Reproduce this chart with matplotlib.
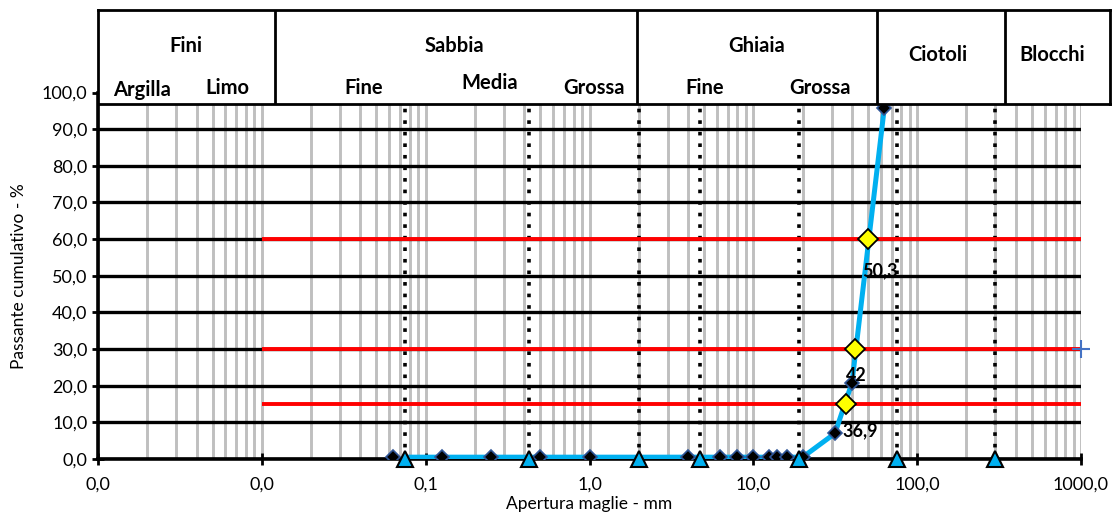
"""
Curva granulometrica -- passante cumulativo vs apertura maglie (scala log).
"""

import matplotlib

matplotlib.use("Agg")
import matplotlib.pyplot as plt
from matplotlib.ticker import FixedLocator, FuncFormatter, LogLocator, NullFormatter

plt.rcParams["font.family"] = ["Lato", "DejaVu Sans"]

# -- Data ---------------------------------------------------------------------
# setacci (vertical dotted lines + triangles on the axis)
sieve_mm = [0.075, 0.425, 2.0, 4.75, 19.0, 75.0, 300.0]
sieve_pass = [0.0, 0.0, 0.0, 0.0, 0.0, 0.0, 0.0]

# measured points (black diamonds)
sample_mm = [0.063, 0.125, 0.25, 0.5, 1.0, 4.0, 6.3, 8.0, 10.0, 12.5, 14.0, 16.0, 20.0, 31.5, 40.0, 63.0]
sample_pass = [0.5, 0.5, 0.5, 0.5, 0.5, 0.5, 0.5, 0.5, 0.5, 0.5, 0.5, 0.5, 0.5, 7.0, 20.8, 95.8]

# blue grading curve
curve_mm = [0.075, 0.125, 0.25, 0.5, 1.0, 2.0, 4.0, 6.3, 8.0, 10.0, 12.5, 14.0, 16.0, 19.0, 20.0, 31.5, 40.0, 63.0]
curve_pass = [0.5, 0.5, 0.5, 0.5, 0.5, 0.5, 0.5, 0.5, 0.5, 0.5, 0.5, 0.5, 0.5, 0.5, 0.5, 7.0, 20.8, 95.8]

# characteristic diameters D60 / D30 / D15 (yellow diamonds + red lines)
d_levels = [60.0, 30.0, 15.0]
d_values = [50.3, 42.0, 36.9]
d_labels = ["50,3", "42", "36,9"]
d_label_offset = [(12, -32), (1, -26), (14, -27)]  # pixels
ref_line_from = 0.01

extra_mm = [1000.0]
extra_pass = [30.0]

x_major = [0.001, 0.01, 0.1, 1.0, 10.0, 100.0, 1000.0]
y_major = [0, 10, 20, 30, 40, 50, 60, 70, 80, 90, 100]

# header table (classificazione)
header_edges = [0.0, 0.175, 0.533, 0.770, 0.896, 1.0]
header_top = [("Fini", 0.087, 0.62), ("Sabbia", 0.352, 0.62), ("Ghiaia", 0.651, 0.62),
              ("Ciotoli", 0.830, 0.52), ("Blocchi", 0.943, 0.52)]
header_bottom = [("Argilla", 0.044, 0.15), ("Limo", 0.128, 0.17), ("Fine", 0.263, 0.17),
                 ("Media", 0.387, 0.22), ("Grossa", 0.490, 0.17), ("Fine", 0.599, 0.17),
                 ("Grossa", 0.713, 0.17)]

BLUE = "#00B0F0"


def comma_fmt(v, pos=None):
    return f"{v:.1f}".replace(".", ",")


# -- Figure -------------------------------------------------------------------
fig = plt.figure(figsize=(11.13, 5.13), dpi=100)
W, H = 1113, 513
ax = fig.add_axes([98 / W, (H - 459) / H, (1081 - 98) / W, (459 - 92.5) / H])

ax.set_xscale("log")
ax.set_xlim(x_major[0], x_major[-1])
ax.set_ylim(0, 100)

ax.xaxis.set_major_locator(FixedLocator(x_major))
ax.xaxis.set_minor_locator(LogLocator(base=10, subs=range(2, 10), numticks=20))
ax.xaxis.set_major_formatter(FuncFormatter(comma_fmt))
ax.xaxis.set_minor_formatter(NullFormatter())
ax.yaxis.set_major_locator(FixedLocator(y_major))
ax.yaxis.set_major_formatter(FuncFormatter(comma_fmt))

ax.grid(True, axis="x", which="both", color="#BFBFBF", lw=2.1)
ax.grid(True, axis="y", which="major", color="black", lw=2.4)
ax.set_axisbelow(True)

ax.tick_params(axis="x", which="major", direction="inout", length=8, width=2, labelsize=13, pad=9)
ax.tick_params(axis="x", which="minor", length=0)
ax.tick_params(axis="y", direction="inout", length=9, width=2, labelsize=13, pad=3)

for side in ["top", "right"]:
    ax.spines[side].set_visible(False)
ax.spines["left"].set_linewidth(2.6)
ax.spines["bottom"].set_linewidth(2.6)
ax.spines["left"].set_zorder(3)
ax.spines["bottom"].set_zorder(3)

# dotted sieve lines
for s in sieve_mm:
    ax.axvline(s, color="black", lw=2.6, ls=(0, (1, 2.2)), zorder=2)

# red reference lines
for lev in d_levels:
    ax.hlines(lev, ref_line_from, x_major[-1], color="#FF0000", lw=2.8, zorder=3)

# curve and markers
ax.plot(curve_mm, curve_pass, color=BLUE, lw=3.6, zorder=4, solid_capstyle="butt")
ax.plot(sample_mm, sample_pass, ls="none", marker="D", ms=7, mfc="black",
        mec="#2F5597", mew=1.2, zorder=5)
ax.plot(sieve_mm, sieve_pass, ls="none", marker="^", ms=12, mfc=BLUE,
        mec="black", mew=1.5, zorder=6, clip_on=False)
ax.plot(d_values, d_levels, ls="none", marker="D", ms=10, mfc="#FFFF00",
        mec="black", mew=1.3, zorder=6)
ax.plot(extra_mm, extra_pass, ls="none", marker="+", ms=13, mew=1.5,
        color="#4472C4", zorder=6, clip_on=False)

for xv, yv, lab, off in zip(d_values, d_levels, d_labels, d_label_offset):
    ax.annotate(lab, (xv, yv), xytext=off, textcoords="offset pixels",
                ha="center", va="center", fontsize=13, fontweight="bold",
                color="black", zorder=7)

ax.set_xlabel("Apertura maglie - mm", fontsize=12.5, labelpad=2)
ax.set_ylabel("Passante cumulativo - %", fontsize=12.5, labelpad=11)

# -- Header table -------------------------------------------------------------
hx = fig.add_axes([98 / W, (H - 104) / H, (1110 - 98) / W, (104 - 10) / H])
hx.set_xlim(0, 1)
hx.set_ylim(0, 1)
hx.set_xticks([])
hx.set_yticks([])
hx.set_facecolor("white")
for sp in hx.spines.values():
    sp.set_linewidth(2.0)
for e in header_edges[1:-1]:
    hx.axvline(e, color="black", lw=2.0)
for txt, xx, yy in header_top + header_bottom:
    hx.text(xx, yy, txt, ha="center", va="center", fontsize=14.5, fontweight="bold")

fig.savefig("out.png", dpi=100)
